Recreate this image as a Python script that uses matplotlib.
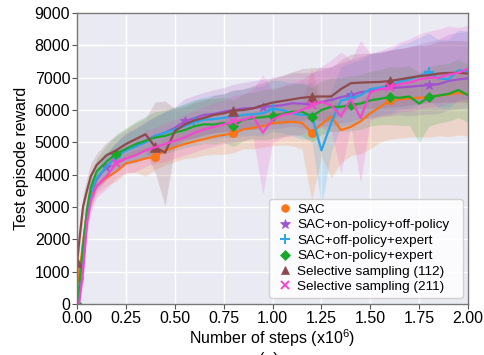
import numpy as np
import matplotlib
matplotlib.use("Agg")
import matplotlib.pyplot as plt
from matplotlib.lines import Line2D

plt.rcParams['font.family'] = ['Liberation Sans', 'DejaVu Sans']
plt.rcParams['mathtext.fontset'] = 'custom'
plt.rcParams['mathtext.rm'] = 'Liberation Sans'
plt.rcParams['mathtext.it'] = 'Liberation Sans'

steps = [0, 0.01, 0.03, 0.05, 0.07, 0.1, 0.15, 0.2, 0.25, 0.3, 0.35, 0.4, 0.45, 0.5, 0.55,
         0.6, 0.65, 0.7, 0.75, 0.8, 0.85, 0.9, 0.95, 1.0, 1.05, 1.1, 1.15, 1.2, 1.25, 1.3,
         1.35, 1.4, 1.45, 1.5, 1.55, 1.6, 1.65, 1.7, 1.75, 1.8, 1.85, 1.9, 1.95, 2.0]

sac = [1250, 800, 1900, 2800, 3250, 3650, 3900, 4100, 4350, 4420, 4500, 4560, 4750, 4850, 4950,
       5030, 5100, 5180, 5230, 5280, 5400, 5450, 5500, 5590, 5620, 5640, 5600, 5300, 5560, 5800,
       5380, 5480, 5650, 5900, 6100, 6300, 6330, 6360, 6380, 6400, 6450, 6480, 6530, 6490]
sac_lo = [300, 200, 300, 300, 300, 250, 250, 300, 300, 350, 550, 400, 450, 450, 450,
          500, 500, 550, 600, 600, 600, 650, 650, 700, 700, 750, 800, 2100, 1000, 1900,
          1000, 900, 1000, 1100, 1100, 1200, 1200, 1200, 1200, 1250, 1250, 1300, 1300, 1300]
sac_hi = [300, 200, 300, 300, 300, 250, 250, 300, 300, 350, 350, 400, 400, 400, 400,
          450, 450, 450, 500, 500, 500, 500, 550, 550, 550, 600, 600, 2000, 700, 700,
          700, 700, 650, 650, 650, 650, 650, 700, 700, 700, 700, 700, 700, 700]

on_off = [0, 200, 1200, 2600, 3400, 3850, 4250, 4550, 4800, 4900, 5050, 5200, 5300, 5450, 5650,
          5750, 5850, 5880, 5950, 6000, 6050, 6060, 6100, 6120, 6150, 6210, 6200, 6160, 6250, 6310,
          6400, 6460, 6550, 6600, 6650, 6670, 6700, 6720, 6750, 6770, 6800, 6900, 6950, 6980]
on_off_lo = [0, 100, 400, 400, 400, 350, 400, 450, 450, 500, 500, 500, 550, 550, 550,
             600, 600, 600, 600, 650, 650, 650, 700, 700, 700, 700, 750, 750, 750, 800,
             800, 800, 800, 850, 850, 850, 850, 900, 900, 900, 900, 900, 900, 900]
on_off_hi = [0, 100, 400, 400, 400, 350, 400, 450, 500, 550, 600, 600, 650, 650, 700,
             700, 700, 750, 750, 800, 800, 850, 850, 900, 900, 950, 950, 1000, 1000, 1050,
             1050, 1100, 1100, 1150, 1150, 1200, 1200, 1250, 1300, 1350, 1400, 1450, 1450, 1450]

off_exp = [0, 100, 1400, 2700, 3450, 3900, 4250, 4550, 4750, 4870, 5000, 5200, 5300, 5400, 5500,
           5620, 5700, 5720, 5760, 5800, 5850, 5870, 5900, 6030, 6000, 5900, 5850, 5850, 4750, 5600,
           6300, 6360, 6460, 6650, 6700, 6750, 6880, 6950, 7050, 7180, 6980, 6950, 7230, 7200]
off_exp_lo = [0, 50, 400, 400, 400, 350, 400, 450, 450, 500, 500, 500, 550, 550, 550,
              600, 600, 600, 600, 650, 650, 650, 700, 700, 700, 700, 750, 750, 1750, 900,
              800, 800, 800, 850, 850, 850, 850, 900, 900, 900, 900, 900, 900, 900]
off_exp_hi = [0, 50, 400, 400, 400, 350, 400, 450, 500, 550, 600, 600, 650, 650, 700,
              700, 700, 750, 750, 800, 800, 850, 850, 900, 900, 950, 950, 1000, 1500, 1000,
              1050, 1100, 1100, 1100, 1100, 1100, 1150, 1150, 1200, 1200, 1200, 1250, 1250, 1250]

on_exp = [0, 500, 1800, 2900, 3600, 4100, 4400, 4650, 4800, 4950, 5050, 5150, 5200, 5300, 5380,
          5500, 5560, 5550, 5600, 5520, 5700, 5750, 5780, 5820, 5880, 5950, 5950, 5800, 6000, 6100,
          6100, 6160, 6200, 6300, 6350, 6400, 6380, 6420, 6200, 6400, 6450, 6500, 6620, 6460]
on_exp_lo = [0, 200, 400, 400, 400, 350, 400, 450, 450, 500, 500, 500, 550, 550, 550,
             600, 600, 600, 600, 650, 650, 650, 700, 700, 700, 700, 750, 800, 750, 750,
             750, 800, 800, 800, 800, 850, 850, 900, 1200, 900, 850, 850, 850, 850]
on_exp_hi = [0, 200, 400, 400, 400, 400, 500, 600, 650, 700, 750, 800, 800, 800, 800,
             800, 800, 800, 800, 800, 800, 800, 850, 850, 850, 850, 900, 900, 900, 900,
             900, 900, 900, 900, 900, 950, 950, 950, 950, 950, 950, 950, 950, 950]

sel112 = [1300, 1900, 3000, 3500, 3950, 4300, 4600, 4750, 4950, 5100, 5250, 4850, 4680, 5350, 5550,
          5680, 5760, 5850, 5900, 5980, 6000, 6050, 6150, 6230, 6280, 6330, 6380, 6410, 6420, 6420,
          6650, 6830, 6850, 6860, 6870, 6900, 6950, 7000, 7050, 7080, 7130, 7150, 7150, 7130]
sel112_lo = [300, 300, 400, 400, 400, 350, 400, 450, 450, 500, 500, 800, 1650, 500, 500,
             550, 550, 550, 600, 600, 600, 650, 650, 650, 700, 700, 700, 700, 750, 750,
             750, 800, 800, 800, 800, 800, 850, 850, 850, 850, 900, 900, 900, 900]
sel112_hi = [300, 300, 400, 400, 400, 350, 400, 450, 450, 500, 500, 1400, 1600, 700, 550,
             550, 550, 600, 600, 650, 650, 700, 700, 750, 800, 850, 900, 900, 900, 900,
             900, 900, 900, 900, 900, 950, 950, 950, 950, 950, 1000, 1000, 1000, 1000]

sel211 = [0, 0, 1000, 2500, 3200, 3650, 3950, 4350, 4500, 4600, 4750, 4850, 4950, 5050, 5150,
          5300, 5400, 5480, 5560, 5650, 5700, 5800, 5300, 5700, 5850, 5900, 6000, 6150, 6250, 6150,
          5800, 6350, 5750, 6550, 6650, 6700, 6800, 6850, 6950, 7000, 7000, 7100, 7150, 7280]
sel211_lo = [0, 0, 400, 400, 400, 350, 400, 450, 450, 500, 500, 500, 550, 550, 550,
             600, 600, 600, 600, 650, 650, 650, 1900, 700, 700, 700, 750, 750, 800, 800,
             1750, 850, 2000, 850, 850, 850, 850, 900, 900, 900, 900, 900, 900, 900]
sel211_hi = [0, 0, 400, 400, 400, 350, 400, 450, 500, 550, 600, 600, 650, 650, 700,
             700, 700, 750, 750, 800, 800, 850, 1800, 900, 900, 950, 950, 1000, 1100, 1400,
             2000, 1200, 2400, 1200, 1200, 1250, 1300, 1350, 1400, 1450, 1500, 1500, 1400, 1350]

labels = ['SAC', 'SAC+on-policy+off-policy', 'SAC+off-policy+expert', 'SAC+on-policy+expert',
          'Selective sampling (112)', 'Selective sampling (211)']
xticks = [0.0, 0.25, 0.5, 0.75, 1.0, 1.25, 1.5, 1.75, 2.0]
yticks = [0, 1000, 2000, 3000, 4000, 5000, 6000, 7000, 8000, 9000]

series = [
    (sac, sac_lo, sac_hi, '#fb7415', 'o', 6, [1, 11, 19, 27, 35]),
    (on_off, on_off_lo, on_off_hi, '#a052d0', '*', 7.5, [6, 14, 22, 31, 39]),
    (off_exp, off_exp_lo, off_exp_hi, '#2aa5e6', '+', 7, [7, 15, 23, 31, 39]),
    (on_exp, on_exp_lo, on_exp_hi, '#18a82a', 'D', 5.5, [0, 7, 19, 23, 27, 31, 35, 39]),
    (sel112, sel112_lo, sel112_hi, '#8e4a4a', '^', 6.5, [0, 11, 19, 27, 35]),
    (sel211, sel211_lo, sel211_hi, '#f347cf', 'x', 6, [7, 19, 27, 35]),
]

fig = plt.figure(figsize=(4.85, 3.55), dpi=100)
ax = fig.add_axes([0.159, 0.144, 0.806, 0.819])
ax.set_facecolor('#eaeaf2')
ax.grid(True, color='white', linewidth=1.0)
ax.set_axisbelow(True)

x = np.array(steps)
for vals, lo, hi, col, mk, ms, me in series:
    v = np.array(vals, dtype=float)
    ax.fill_between(x, v - np.array(lo), v + np.array(hi), color=col, alpha=0.18, linewidth=0)

for vals, lo, hi, col, mk, ms, me in series:
    ax.plot(x, vals, color=col, linewidth=1.6, marker=mk, markersize=ms, markevery=me,
            markeredgewidth=1.4 if mk in ('+', 'x') else 0.5, markeredgecolor=col)

ax.set_xlim(0, 2.0)
ax.set_ylim(0, 9000)
ax.set_xticks(xticks)
ax.set_xticklabels(['%.2f' % t for t in xticks])
ax.set_yticks(yticks)
ax.set_yticklabels([str(t) for t in yticks])
ax.tick_params(labelsize=11.5, length=3.5, color='#555555', pad=1.5)
for sp in ax.spines.values():
    sp.set_color('#777777')
    sp.set_linewidth(1.0)
ax.set_xlabel('Number of steps (x10$^{6}$)', fontsize=11.5, labelpad=1)
ax.set_ylabel('Test episode reward', fontsize=11.5, labelpad=4)

handles = [Line2D([], [], linestyle='none', marker=s[4], color=s[3], markersize=s[5] - 0.5,
                  markeredgewidth=1.4 if s[4] in ('+', 'x') else 0.5)
           for s in series]
leg = ax.legend(handles, labels, loc='lower left', bbox_to_anchor=(0.491, 0.021, 0.495, 0.34),
                mode='expand', borderaxespad=0.0, fontsize=9.7, labelspacing=0.22,
                handlelength=1.6, handletextpad=0.15, borderpad=0.35,
                frameon=True, fancybox=True, framealpha=0.85)
leg.get_frame().set_edgecolor('#cccccc')

fig.text(0.555, 0.009, '(a)', fontsize=11.5, ha='center', va='top')

fig.savefig('out.png', dpi=100)
